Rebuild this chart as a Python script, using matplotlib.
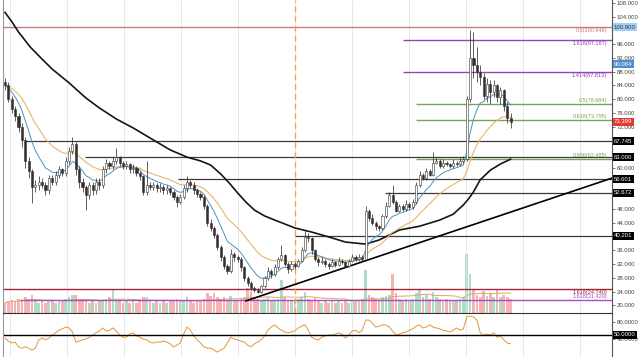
import numpy as np
import pandas as pd
import matplotlib
matplotlib.use("Agg")
import matplotlib.pyplot as plt
import matplotlib.transforms as mtransforms

plt.rcParams['font.family'] = ['Liberation Sans', 'DejaVu Sans']

# candles (price units)
opens = [
    85, 84, 80, 77, 75, 72, 68, 62, 59, 54.5,
    55, 56, 55, 53.5, 57, 56, 58, 59.5, 58.5, 62,
    65, 67, 59.5, 56, 54.5, 52, 55, 53.5, 56, 55,
    59.5, 61.5, 60.5, 62, 63, 61.5, 60.5, 61, 59.5, 60,
    58.5, 57.5, 53, 55, 54.5, 55, 54, 54.5, 53.5, 54,
    53, 51.5, 50, 51.5, 54, 56, 55, 53.5, 52.5, 51.5,
    49, 44, 42.5, 40.5, 37, 34, 31.5, 30, 35, 34,
    33.5, 31, 28, 26.5, 25, 24.5, 24, 25.5, 28, 30,
    29, 31, 33.5, 34.5, 32, 30.5, 32, 31.5, 33, 36,
    40, 39.5, 36, 33.5, 32.5, 33, 32, 31.5, 32.5, 31.8,
    33, 32.5, 31.5, 33, 34, 33.5, 34, 33.5, 47.5, 45.5,
    44, 43, 42.5, 46, 49, 52, 50, 47.5, 49, 48,
    49.5, 48.5, 50, 55, 58, 57, 59, 58, 61.5, 62,
    60.5, 61.5, 61, 60.5, 61.5, 61, 62, 62.5, 80, 92,
    90, 88, 86.5, 81, 84.5, 82, 84, 80.5, 82.5, 78,
    74.5]
closes = [
    84, 80, 77, 75, 72, 68, 62, 59, 54.5, 55,
    56, 55, 53.5, 57, 56, 58, 59.5, 58.5, 62, 65,
    67, 59.5, 56, 54.5, 52, 55, 53.5, 56, 55, 59.5,
    61.5, 60.5, 62, 63, 61.5, 60.5, 61, 59.5, 60, 58.5,
    57.5, 53, 55, 54.5, 55, 54, 54.5, 53.5, 54, 53,
    51.5, 50, 51.5, 54, 56, 55, 53.5, 52.5, 51.5, 49,
    44, 42.5, 40.5, 37, 34, 31.5, 30, 35, 34, 33.5,
    31, 28, 26.5, 25, 24.5, 24, 25.5, 28, 30, 29,
    31, 33.5, 34.5, 32, 30.5, 32, 31.5, 33, 36, 40,
    39.5, 36, 33.5, 32.5, 33, 32, 31.5, 32.5, 31.8, 33,
    32.5, 31.5, 33, 34, 33.5, 34, 33.5, 47.5, 45.5, 44,
    43, 42.5, 46, 49, 52, 50, 47.5, 49, 48, 49.5,
    48.5, 50, 55, 58, 57, 59, 58, 61.5, 62, 60.5,
    61.5, 61, 60.5, 61.5, 61, 62, 62.5, 80, 92, 90,
    88, 86.5, 81, 84.5, 82, 84, 80.5, 82.5, 78, 74.5,
    73.4]
highs = [
    86, 85, 81, 78, 76, 73, 69, 63, 59.5, 56.5,
    57.5, 57, 56, 58, 58, 59, 60.5, 60, 63, 66,
    69, 67.5, 60.5, 57, 55, 56, 56, 57, 57, 60.5,
    62.5, 62, 63, 65.7, 63.5, 62, 62, 61.5, 61, 60.5,
    59, 58, 62, 56, 56, 55.5, 55.5, 55, 55, 54.5,
    53.5, 52, 52.5, 55, 57.5, 56.5, 56, 54, 53, 52,
    49.5, 45, 43, 41, 37.5, 34.5, 32, 36.5, 35.5, 34.5,
    34, 31.5, 28.5, 27, 25.5, 25, 26, 28.5, 31, 30.5,
    32, 34, 37.5, 35, 32.5, 33, 32.5, 33.5, 37, 41.8,
    41, 40, 36.5, 34, 34, 33.5, 32.5, 33.5, 33, 34,
    33.5, 33, 33.5, 35, 34.5, 35, 34.5, 49, 48, 46.5,
    44.5, 43.5, 46.5, 50, 53, 55, 50.5, 49.5, 49.5, 50.5,
    50, 51, 56, 59, 58.5, 60, 59.5, 64.5, 63, 62.5,
    62.5, 62, 61.5, 62.5, 62, 63, 63.5, 81, 100, 99.5,
    95, 90, 87.5, 86, 85.5, 85.5, 84.5, 83.5, 83, 79,
    76]
lows = [
    82.5, 79, 76, 73.5, 70.5, 66, 60, 57, 49.7, 53,
    53.5, 54, 52, 52.5, 55, 55, 57, 57.5, 57.5, 61,
    64, 58, 54, 53, 47.6, 51, 52, 52.5, 53.5, 54,
    58.5, 59.5, 59.5, 61, 60.5, 59.5, 59.5, 58.5, 58.5, 57.5,
    56.5, 52, 52, 53.5, 53.5, 53, 53, 52.5, 52.5, 52,
    50.5, 48.6, 49.5, 51, 53, 54, 52.5, 51.5, 50.5, 48,
    43, 41.5, 39.5, 36, 33, 30.5, 29, 29.5, 33, 32.5,
    30, 27, 25.5, 24.5, 23.8, 23.5, 23.5, 25, 27.5, 28,
    28.5, 30.5, 33, 31.5, 29.5, 30, 30.5, 31, 32.5, 35.5,
    38.5, 35, 33, 31.5, 32, 31, 30.5, 31, 31, 31.5,
    32, 31, 31, 32.5, 33, 33, 33, 33, 44.5, 43.5,
    42, 41.5, 42, 45.5, 48.5, 49.5, 47, 47, 47.5, 47.5,
    48, 48, 49.5, 54.5, 56.5, 56.5, 57.5, 57.5, 61, 60,
    60, 60.5, 60, 60, 60.5, 60.5, 61.5, 62, 79, 86,
    85, 84, 80, 79, 78.5, 80.5, 79, 78.5, 76.5, 73,
    71.5]
volume = [
    8, 9, 10, 9, 11, 10, 12, 11, 14, 9,
    8, 9, 8, 10, 9, 8, 9, 10, 11, 12,
    14, 14, 10, 9, 11, 8, 9, 8, 9, 10,
    11, 12, 18, 10, 9, 8, 9, 8, 9, 8,
    9, 12, 12, 9, 8, 9, 8, 9, 8, 9,
    10, 11, 9, 10, 12, 9, 8, 9, 10, 11,
    15, 13, 15, 12, 11, 12, 10, 13, 9, 10,
    11, 12, 19, 17, 12, 11, 10, 11, 12, 10,
    9, 11, 25, 12, 10, 9, 10, 11, 12, 16,
    11, 10, 12, 9, 8, 9, 8, 9, 8, 9,
    8, 9, 8, 10, 9, 10, 11, 33, 14, 12,
    11, 10, 12, 13, 14, 30, 15, 11, 10, 11,
    10, 11, 15, 18, 12, 14, 11, 16, 12, 11,
    10, 11, 10, 9, 10, 11, 12, 45, 30, 18,
    14, 12, 17, 13, 15, 12, 18, 12, 14, 12,
    11]
rsi = [
    43, 36, 32, 34, 23, 20, 23, 20, 16, 20,
    39, 43, 39, 43, 50, 55, 61, 64, 68, 66,
    57, 34, 36, 39, 41, 45, 50, 55, 59, 66,
    59, 61, 66, 59, 50, 45, 45, 52, 55, 48,
    45, 41, 39, 34, 32, 34, 34, 36, 34, 30,
    23, 27, 32, 52, 68, 61, 48, 39, 32, 23,
    20, 20, 16, 11, 16, 20, 32, 45, 41, 39,
    36, 34, 27, 23, 30, 34, 39, 48, 61, 68,
    73, 66, 61, 57, 55, 57, 59, 66, 70, 73,
    61, 45, 41, 39, 45, 48, 50, 50, 52, 55,
    52, 43, 50, 59, 61, 55, 61, 84, 84, 77,
    68, 70, 73, 73, 68, 59, 50, 52, 55, 57,
    61, 64, 70, 73, 66, 68, 73, 68, 66, 64,
    61, 59, 57, 61, 66, 61, 64, 91, 93, 91,
    84, 55, 50, 52, 50, 55, 45, 48, 39, 32,
    30]

# long moving average (black curve), read at a number of bars
ma_bar = [0, 2, 4, 7.5, 11, 14, 19, 24, 28, 33, 38, 44, 49, 54, 58, 61, 64,
          66.5, 69, 71.5, 74, 77, 80, 86, 91, 96, 101, 107, 111, 117, 123,
          129, 133, 136, 137.5, 139, 141, 144, 147, 150]
ma_price = [105.2, 102.5, 99.5, 95.1, 91.6, 88.7, 84.7, 80.3, 77.4, 74.2, 71.6,
            68.1, 65.2, 63.1, 62.0, 60.8, 58.2, 55.6, 52.7, 50.0, 47.7, 46.0,
            44.8, 42.5, 41.3, 39.9, 38.4, 37.8, 39.0, 41.9, 43.0, 44.8, 46.5,
            49.2, 50.9, 53.0, 56.5, 59.3, 61.1, 62.5]

# horizontal support / resistance drawings
sr_price = [67.745, 63.000, 56.601, 52.672, 40.201]
sr_start = [6, 23.7, 51.3, 112.8, 86]

# fibonacci levels
fib_price = [100.946, 97.187, 87.813, 78.684, 73.795, 62.485, 24.740, 21.420]
fib_text = ["0.5(100.946)", "1.618(97.187)", "1.414(87.813)", "0.5(78.684)",
            "0.618(73.795)", "0.886(62.485)", "1.618(24.740)", "1.618(21.420)"]
fib_start = [-0.6, 118, 118, 122, 122, 122, -0.6, 4.5]
fib_color = ["#c97a7a", "#9442b5", "#9442b5", "#79a455", "#79a455", "#79a455",
             "#a3243b", "#a64fc9"]
fib_above = [False, False, False, True, True, True, False, True]

# rising trendline anchors (bar, price)
trend_bar = [71.5, 180.1]
trend_price = [21.3, 57.0]
event_bar = 86.05

price_ticks = [108, 104, 96, 92, 88, 84, 80, 76, 72, 60, 48, 44, 36, 32, 28, 24, 20]
box_price = [100.900, 90.084, 73.399, 67.745, 63.000, 56.601, 52.672, 40.201]
box_face = ["#a8cdee", "#4f8fd0", "#e53935", "black", "black", "black", "black", "black"]
box_textc = ["#1d3b57", "white", "white", "white", "white", "white", "white", "white"]

x = np.arange(len(closes))
o = np.array(opens)
c = np.array(closes)

fig = plt.figure(figsize=(6.4, 3.57), dpi=100)
ax = fig.add_axes([3/640, 1 - 313/357, 609/640, 313/357])
axv = ax.twinx()
axr = fig.add_axes([3/640, 0, 609/640, 44/357], sharex=ax)

ax.set_zorder(axv.get_zorder() + 1)
ax.patch.set_visible(False)

# volume
up = c >= o
vcol = np.where(up, "#9fd8bd", "#f4a6a6")
axv.bar(x, volume, width=0.8, color=vcol, alpha=0.85, linewidth=0)
axv.plot(x, pd.Series(volume).rolling(20, min_periods=1).mean(), color="#d8aa6a", lw=0.7)
axv.set_ylim(0, 240)
axv.set_yticks([])
for s in axv.spines.values():
    s.set_visible(False)

# grid
grid_x = np.arange(1.5, 181, 16.9)
ax.set_xticks(grid_x)
ax.grid(axis="x", color="#e4e4e4", lw=0.6)
ax.tick_params(axis="x", length=0, labelbottom=False)
axr.tick_params(axis="x", length=0, labelbottom=False)
axr.grid(axis="x", color="#e4e4e4", lw=0.6)

# levels
for p, s0 in zip(sr_price, sr_start):
    ax.hlines(p, s0, 180.1, color="#3a3a3a", lw=0.9, zorder=2)
btf = mtransforms.blended_transform_factory(ax.transAxes, ax.transData)
for p, t, s0, col, above in zip(fib_price, fib_text, fib_start, fib_color, fib_above):
    ax.hlines(p, s0, 180.1, color=col, lw=1.0, zorder=2)
    ax.text(0.992, p + (0.3 if above else -0.2), t, transform=btf, ha="right",
            va="bottom" if above else "top", fontsize=4.0, color=col, zorder=5)

ax.axvline(event_bar, color="#f2a541", lw=1.0, ls=(0, (4, 3)), zorder=2)
ax.plot(trend_bar, trend_price, color="black", lw=1.2, zorder=3)
ax.plot(ma_bar, ma_price, color="#151515", lw=1.2, zorder=3)

# moving averages on closes
cs = pd.Series(closes)
ax.plot(x, cs.ewm(span=21, adjust=False).mean(), color="#e9b56a", lw=0.8, zorder=3)
ax.plot(x, cs.ewm(span=9, adjust=False).mean(), color="#4a93c4", lw=0.7, zorder=3)

# candles
ax.vlines(x, lows, highs, color="#333333", lw=0.55, zorder=4)
body_lo = np.minimum(o, c)
body_h = np.maximum(np.abs(c - o), 0.15)
ax.bar(x, body_h, bottom=body_lo, width=0.62,
       color=np.where(up, "white", "#3b2c2c"), edgecolor="#333333", linewidth=0.4, zorder=4)

ax.set_xlim(-0.6, 180.1)
ax.set_ylim(17.76, 108.8)
ax.yaxis.tick_right()
ax.set_yticks(price_ticks)
ax.set_yticklabels([f"{t:.3f}" for t in price_ticks])
ax.tick_params(axis="y", labelsize=4.3, length=2, pad=1.5, colors="#444444", width=0.5)

for p, fc, tc in zip(box_price, box_face, box_textc):
    ax.text(1.0, p, f"{p:.3f}",
            transform=mtransforms.offset_copy(btf, fig=fig, x=2, y=0, units="dots"),
            ha="left", va="center", fontsize=4.3, color=tc, clip_on=False,
            bbox=dict(boxstyle="square,pad=0.25", fc=fc, ec="none"))

ax.spines["top"].set_visible(False)
ax.spines["left"].set_color("#999999")
ax.spines["right"].set_color("#555555")
ax.spines["bottom"].set_color("#333333")
for s in ["left", "right", "bottom"]:
    ax.spines[s].set_linewidth(0.8)

# oscillator panel
axr.plot(x, rsi, color="#e5953a", lw=0.7)
axr.axhline(50, color="black", lw=1.0)
axr.set_ylim(0, 100)
axr.yaxis.tick_right()
axr.set_yticks([80, 40])
axr.set_yticklabels(["80.0000", "40.0000"])
axr.tick_params(axis="y", labelsize=4.3, length=2, pad=1.5, colors="#444444", width=0.5)
btr = mtransforms.blended_transform_factory(axr.transAxes, axr.transData)
axr.text(1.0, 50, "50.0000",
         transform=mtransforms.offset_copy(btr, fig=fig, x=2, y=0, units="dots"),
         ha="left", va="center", fontsize=4.3, color="white", clip_on=False,
         bbox=dict(boxstyle="square,pad=0.25", fc="black", ec="none"))
axr.spines["top"].set_visible(False)
axr.spines["bottom"].set_visible(False)
axr.spines["left"].set_color("#999999")
axr.spines["right"].set_color("#555555")
for s in ["left", "right"]:
    axr.spines[s].set_linewidth(0.8)

fig.savefig("out.png", dpi=100, facecolor="white")
